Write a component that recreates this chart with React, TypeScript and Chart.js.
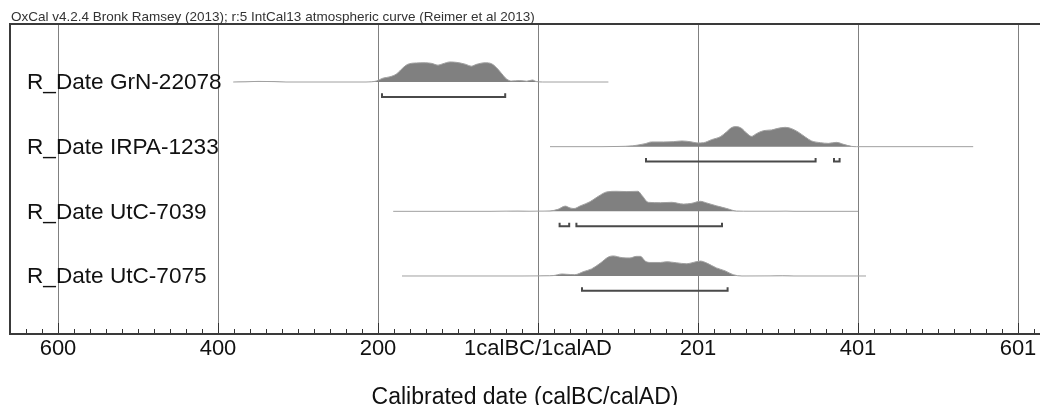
import React, { useEffect, useRef } from "react";
import { Chart, registerables } from "chart.js";

Chart.register(...registerables);

// ---- data ----
const headerText = "OxCal v4.2.4 Bronk Ramsey (2013); r:5 IntCal13 atmospheric curve (Reimer et al 2013)";
const axisTitle = "Calibrated date (calBC/calAD)";
const rowLabels = ["R_Date GrN-22078", "R_Date IRPA-1233", "R_Date UtC-7039", "R_Date UtC-7075"];
const rowPositions = [3, 2, 1, 0];

// years on a continuous axis: negative = calBC, 0 = 1calBC/1calAD boundary, n>0 = calAD n+1
const majorTicks = [-600, -400, -200, 0, 200, 400, 600];
const minorTicks = [-640, -620, -580, -560, -540, -520, -500, -480, -460, -440, -420, -380, -360, -340, -320, -300, -280, -260, -240, -220, -180, -160, -140, -120, -100, -80, -60, -40, -20, 20, 40, 60, 80, 100, 120, 140, 160, 180, 220, 240, 260, 280, 300, 320, 340, 360, 380, 420, 440, 460, 480, 500, 520, 540, 560, 580, 620];

const grnYears = [-381, -365, -350, -330, -315, -215, -208, -202, -194, -185, -177, -169, -163, -152, -141, -133, -125, -119, -110, -102, -91, -83, -77, -66, -58, -52, -45, -39, -33, -23, -14, -7, -2, 6, 88];
const grnDensity = [0, 0.01, 0.03, 0.02, 0, 0, 0.01, 0.05, 0.19, 0.26, 0.4, 0.7, 0.88, 0.95, 0.96, 0.93, 0.84, 0.91, 1.0, 0.98, 0.89, 0.79, 0.88, 0.96, 0.91, 0.72, 0.4, 0.14, 0.05, 0.07, 0.04, 0.1, 0.02, 0, 0];
const grnRanges = [[-195, -41]];

const irpaYears = [15, 80, 100, 118, 125, 134, 142, 157, 169, 180, 190, 200, 207, 217, 228, 236, 242, 248, 255, 261, 267, 273, 282, 292, 300, 309, 317, 325, 334, 342, 353, 363, 373, 382, 392, 398, 544];
const irpaDensity = [0, 0, 0.01, 0.04, 0.08, 0.15, 0.235, 0.235, 0.25, 0.285, 0.25, 0.185, 0.2, 0.35, 0.5, 0.75, 0.95, 1.0, 0.9, 0.665, 0.515, 0.65, 0.8, 0.835, 0.915, 0.965, 0.9, 0.735, 0.485, 0.285, 0.2, 0.165, 0.215, 0.115, 0.015, 0, 0];
const irpaRanges = [[135, 347], [370, 377]];

const utc7039Years = [-181, -60, -40, -25, -10, 0, 15, 25, 34, 40, 45, 53, 65, 75, 86, 98, 111, 125, 130, 138, 153, 167, 182, 192, 203, 211, 223, 236, 248, 265, 300, 310, 320, 400];
const utc7039Density = [0, 0, 0.01, 0.015, 0.005, 0.01, 0.02, 0.1, 0.26, 0.17, 0.14, 0.275, 0.48, 0.74, 0.97, 1.0, 0.985, 1.0, 0.79, 0.45, 0.43, 0.45, 0.36, 0.4, 0.5, 0.415, 0.275, 0.14, 0.015, 0.005, 0.005, 0.01, 0, 0];
const utc7039Ranges = [[27, 39], [48, 230]];

const utc7075Years = [-170, -20, 0, 10, 19, 30, 36, 46, 57, 67, 78, 88, 94, 105, 115, 123, 128, 134, 140, 153, 161, 173, 186, 194, 203, 211, 223, 234, 244, 255, 290, 306, 320, 410];
const utc7075Density = [0, 0, 0.005, 0.01, 0.02, 0.1, 0.085, 0.065, 0.22, 0.355, 0.645, 0.95, 1.0, 0.915, 0.9, 0.98, 0.98, 0.745, 0.675, 0.675, 0.71, 0.66, 0.61, 0.675, 0.745, 0.645, 0.405, 0.255, 0.065, 0, 0.005, 0.01, 0, 0];
const utc7075Ranges = [[55, 237]];

const samples = [
  { years: grnYears, density: grnDensity, ranges: grnRanges },
  { years: irpaYears, density: irpaDensity, ranges: irpaRanges },
  { years: utc7039Years, density: utc7039Density, ranges: utc7039Ranges },
  { years: utc7075Years, density: utc7075Density, ranges: utc7075Ranges },
];

// ---- styling constants ----
const PEAK = 0.31;
const BRACKET_OFFSET = 0.23;
const BRACKET_TICK = 0.055;
const FONT = "'Liberation Sans', Arial, sans-serif";

function tickLabel(v: number): string {
  if (v < 0) return String(-v);
  if (v === 0) return "1calBC/1calAD";
  return String(v + 1);
}

const decorPlugin = {
  id: "oxcalDecor",
  afterDraw(chart: any) {
    const { ctx, chartArea, scales } = chart;
    const xs = scales.x;
    const ys = scales.y;
    ctx.save();
    // ticks inside bottom
    ctx.strokeStyle = "#333";
    ctx.lineWidth = 1;
    const b = chartArea.bottom;
    minorTicks.forEach((v) => {
      const x = Math.round(xs.getPixelForValue(v)) + 0.5;
      ctx.beginPath();
      ctx.moveTo(x, b);
      ctx.lineTo(x, b - 5);
      ctx.stroke();
    });
    majorTicks.forEach((v) => {
      const x = Math.round(xs.getPixelForValue(v)) + 0.5;
      ctx.beginPath();
      ctx.moveTo(x, b);
      ctx.lineTo(x, b - 11);
      ctx.stroke();
    });
    // frame
    ctx.strokeStyle = "#3a3a3a";
    ctx.lineWidth = 2;
    ctx.beginPath();
    ctx.moveTo(chartArea.right + 2, chartArea.top);
    ctx.lineTo(chartArea.left, chartArea.top);
    ctx.lineTo(chartArea.left, chartArea.bottom);
    ctx.lineTo(chartArea.right + 2, chartArea.bottom);
    ctx.stroke();
    // header
    ctx.fillStyle = "#333";
    ctx.font = `13.5px ${FONT}`;
    ctx.textBaseline = "middle";
    ctx.textAlign = "left";
    ctx.fillText(headerText, 11, 17);
    // row labels
    ctx.fillStyle = "#111";
    ctx.font = `22.6px ${FONT}`;
    rowLabels.forEach((label, i) => {
      const y = ys.getPixelForValue(rowPositions[i]);
      ctx.fillText(label, 27, y + 1);
    });
    ctx.restore();
  },
};

export default function App() {
  const ref = useRef<HTMLCanvasElement | null>(null);
  useEffect(() => {
    if (!ref.current) return;
    const datasets: any[] = [];
    samples.forEach((s, i) => {
      const row = rowPositions[i];
      datasets.push({
        data: s.years.map((x, k) => ({ x, y: row + s.density[k] * PEAK })),
        borderColor: "#a0a0a0",
        borderWidth: 1,
        backgroundColor: "#808080",
        fill: { value: row },
        pointRadius: 0,
        cubicInterpolationMode: "monotone",
      });
      const pts: any[] = [];
      s.ranges.forEach(([a, c]) => {
        const yb = row - BRACKET_OFFSET;
        pts.push({ x: a, y: yb + BRACKET_TICK }, { x: a, y: yb }, { x: c, y: yb }, { x: c, y: yb + BRACKET_TICK }, { x: c, y: null });
      });
      datasets.push({
        data: pts,
        borderColor: "#4a4a4a",
        borderWidth: 2,
        fill: false,
        pointRadius: 0,
        tension: 0,
        spanGaps: false,
      });
    });
    const chart = new Chart(ref.current, {
      type: "line",
      data: { datasets },
      options: {
        animation: false,
        responsive: false,
        devicePixelRatio: 1,
        layout: { padding: { left: 10, right: 0, top: 24, bottom: 0 } },
        plugins: { legend: { display: false }, tooltip: { enabled: false }, title: { display: false } },
        scales: {
          x: {
            type: "linear",
            min: -660,
            max: 627.5,
            afterBuildTicks: (scale: any) => {
              scale.ticks = majorTicks.map((v) => ({ value: v }));
            },
            grid: { color: "#808080", lineWidth: 1, drawTicks: false },
            border: { display: false },
            ticks: {
              callback: (v: any) => tickLabel(Number(v)),
              color: "#111",
              font: { family: FONT, size: 22 },
              padding: 2,
              maxRotation: 0,
              autoSkip: false,
            },
            title: {
              display: true,
              text: axisTitle,
              color: "#111",
              font: { family: FONT, size: 23 },
              padding: { top: 19, bottom: 1 },
            },
          },
          y: {
            type: "linear",
            display: false,
            min: -0.897,
            max: 3.897,
          },
        },
      },
      plugins: [decorPlugin],
    });
    return () => chart.destroy();
  }, []);
  return (
    <div style={{ position: "fixed", left: 0, top: 0, width: 1040, height: 405, overflow: "hidden", background: "#fff" }}>
      <canvas ref={ref} width={1040} height={412} style={{ width: 1040, height: 412, display: "block" }} />
    </div>
  );
}
